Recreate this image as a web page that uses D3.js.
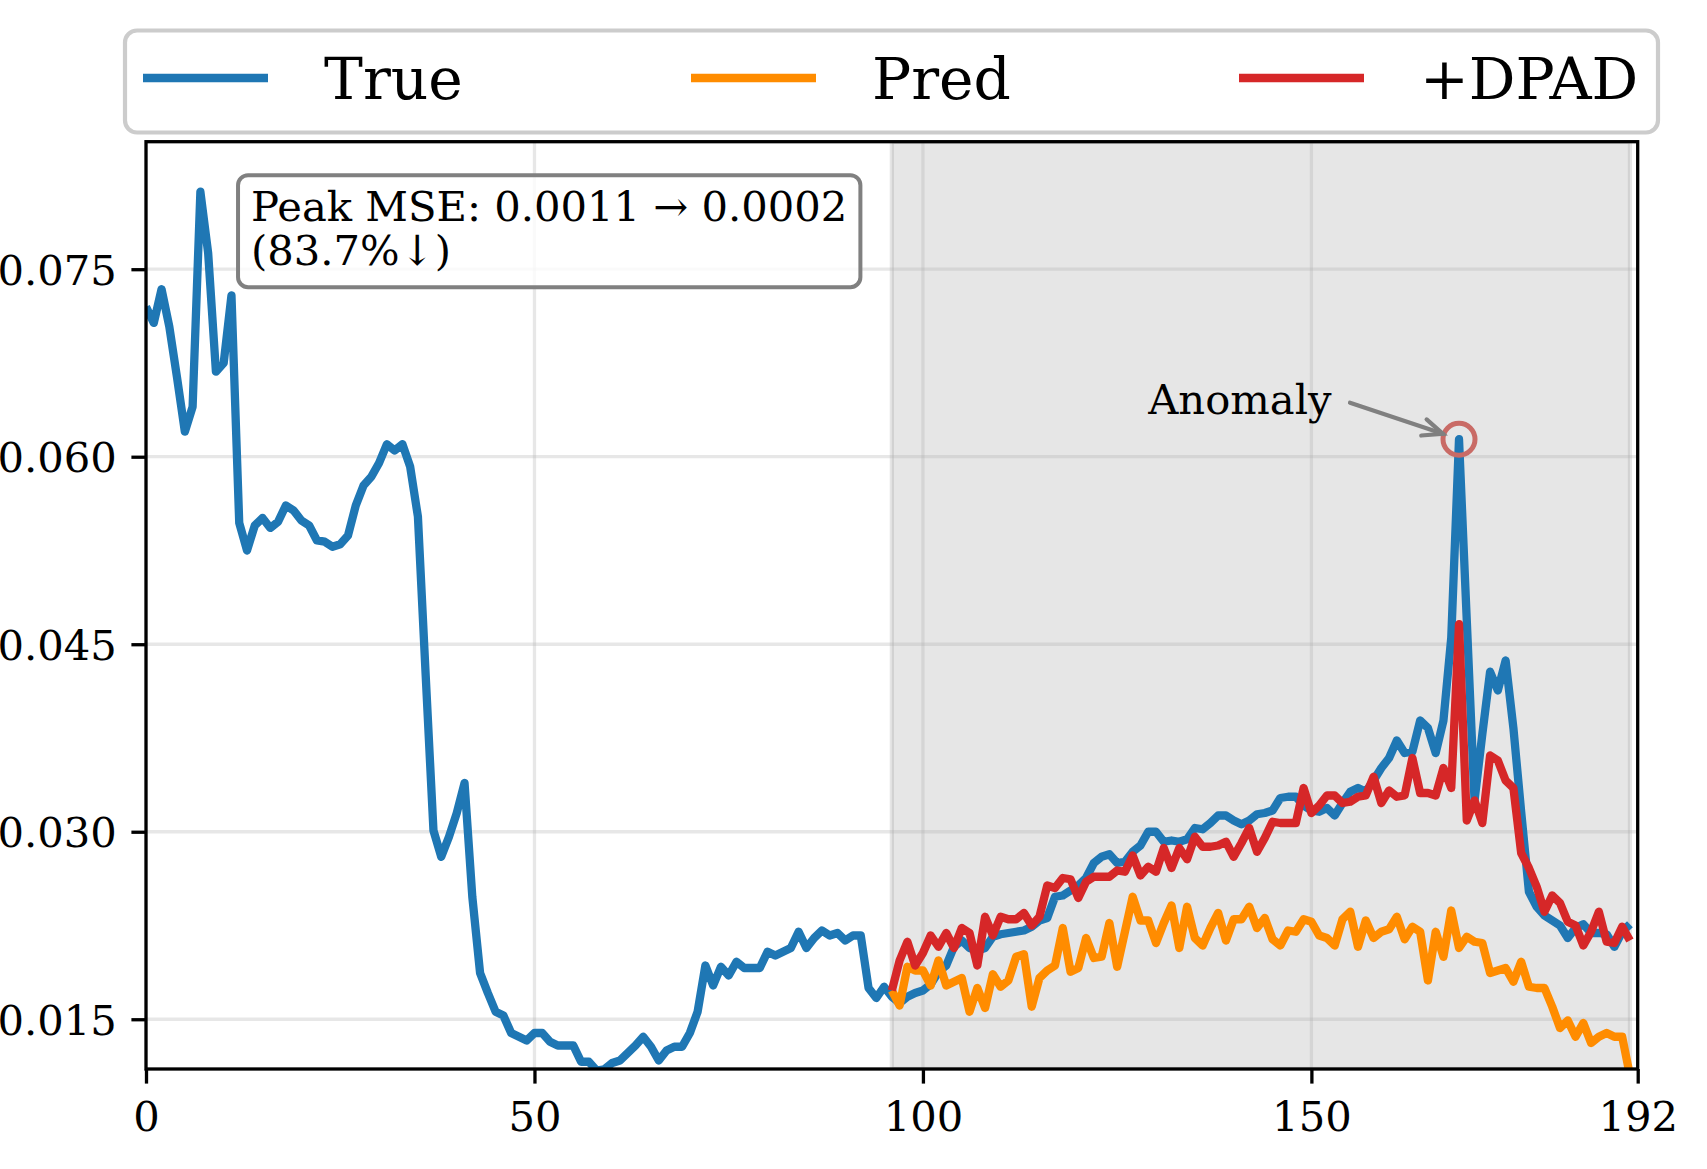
<!DOCTYPE html>
<html><head><meta charset="utf-8">
<script src="https://cdn.jsdelivr.net/npm/d3@7"></script>
<style>
html,body{margin:0;padding:0;background:#fff;}
svg{display:block;}
text{font-family:"DejaVu Serif","Liberation Serif",serif;fill:#000;}
</style>
</head><body>
<svg id="chart" width="1707" height="1169"></svg>
<script>
// ---------------- DATA ----------------
const trueValues = [
0.0720,0.0707,0.0734,0.0704,0.0663,0.0620,0.0640,0.0812,0.0763,0.0668,
0.0675,0.0729,0.0547,0.0525,0.0545,0.0551,0.0543,0.0548,0.0561,0.0557,
0.0549,0.0545,0.0533,0.0532,0.0528,0.0530,0.0537,0.0561,0.0577,0.0584,
0.0595,0.0610,0.0605,0.0610,0.0592,0.0552,0.0425,0.0301,0.0280,0.0296,
0.0315,0.0339,0.0248,0.0187,0.0171,0.0156,0.0153,0.0139,0.0136,0.0133,
0.0139,0.0139,0.0132,0.0129,0.0129,0.0129,0.0116,0.0116,0.0109,0.0110,
0.0115,0.0117,0.0123,0.0129,0.0136,0.0128,0.0117,0.0125,0.0128,0.0128,
0.0139,0.0156,0.0193,0.0177,0.0192,0.0185,0.0196,0.0191,0.0191,0.0191,
0.0204,0.0201,0.0204,0.0207,0.0220,0.0207,0.0215,0.0221,0.0217,0.0219,
0.0213,0.0217,0.0217,0.0175,0.0167,0.0176,0.0168,0.0163,0.0168,0.0171,
0.0173,0.0178,0.0188,0.0193,0.0208,0.0213,0.0207,0.0205,0.0207,0.0216,
0.0218,0.0219,0.0220,0.0221,0.0224,0.0229,0.0231,0.0248,0.0249,0.0253,
0.0257,0.0263,0.0275,0.0280,0.0282,0.0275,0.0276,0.0284,0.0289,0.0300,
0.0300,0.0292,0.0293,0.0292,0.0294,0.0303,0.0302,0.0307,0.0313,0.0313,
0.0309,0.0306,0.0309,0.0314,0.0315,0.0317,0.0327,0.0328,0.0328,0.0321,
0.0317,0.0316,0.0319,0.0313,0.0323,0.0332,0.0335,0.0332,0.0341,0.0351,
0.0359,0.0373,0.0363,0.0364,0.0389,0.0383,0.0363,0.0389,0.0455,0.0614,
0.0469,0.0325,0.0378,0.0428,0.0413,0.0437,0.0383,0.0316,0.0252,0.0240,
0.0233,0.0229,0.0225,0.0215,0.0223,0.0226,0.0219,0.0219,0.0218,0.0208,
0.0220,0.0226];
const predValues = [
0.0173,0.0161,0.0192,0.0189,0.0189,0.0177,0.0197,0.0177,0.0180,0.0183,
0.0156,0.0175,0.0159,0.0186,0.0176,0.0181,0.0200,0.0202,0.0160,0.0183,
0.0189,0.0193,0.0223,0.0188,0.0191,0.0215,0.0199,0.0200,0.0227,0.0192,
0.0220,0.0248,0.0229,0.0229,0.0211,0.0227,0.0241,0.0207,0.0240,0.0215,
0.0209,0.0223,0.0235,0.0213,0.0230,0.0230,0.0240,0.0223,0.0231,0.0214,
0.0209,0.0221,0.0220,0.0230,0.0228,0.0217,0.0215,0.0209,0.0230,0.0236,
0.0208,0.0229,0.0215,0.0220,0.0222,0.0232,0.0214,0.0224,0.0220,0.0181,
0.0220,0.0200,0.0237,0.0207,0.0216,0.0212,0.0211,0.0187,0.0189,0.0191,
0.0180,0.0196,0.0176,0.0175,0.0175,0.0160,0.0143,0.0149,0.0136,0.0147,
0.0131,0.0136,0.0139,0.0136,0.0136,0.0105];
const dpadValues = [
0.0173,0.0197,0.0212,0.0193,0.0203,0.0217,0.0208,0.0219,0.0207,0.0223,
0.0219,0.0193,0.0232,0.0217,0.0232,0.0230,0.0230,0.0235,0.0225,0.0232,
0.0257,0.0255,0.0263,0.0262,0.0247,0.0260,0.0264,0.0264,0.0264,0.0269,
0.0268,0.0281,0.0265,0.0272,0.0268,0.0287,0.0271,0.0287,0.0278,0.0296,
0.0288,0.0288,0.0289,0.0292,0.0280,0.0291,0.0303,0.0284,0.0295,0.0308,
0.0307,0.0307,0.0307,0.0335,0.0315,0.0321,0.0329,0.0329,0.0323,0.0324,
0.0328,0.0329,0.0344,0.0323,0.0333,0.0328,0.0329,0.0359,0.0331,0.0331,
0.0329,0.0351,0.0335,0.0466,0.0309,0.0325,0.0307,0.0361,0.0357,0.0341,
0.0335,0.0283,0.0271,0.0256,0.0236,0.0249,0.0243,0.0228,0.0225,0.0209,
0.0220,0.0236,0.0212,0.0211,0.0224,0.0213];
const forecastStart = 96;
const seriesNames = ["True", "Pred", "+DPAD"];
const seriesColors = ["#1f77b4", "#ff8c00", "#d62728"];
const xTicks = [0, 50, 100, 150, 192];
const yTicks = [0.015, 0.030, 0.045, 0.060, 0.075];
const xDomain = [0, 192];
const yDomain = [0.01102, 0.0852];
const shadeRange = [96, 191];
const annotationLines = ["Peak MSE: 0.0011 \u2192 0.0002", "(83.7%\u2193)"];
const anomalyLabel = "Anomaly";
const anomalyIndex = 169;

// ---------------- LAYOUT ----------------
const W = 1707, H = 1169;
const M = {left: 146, right: 1707 - 1637.7, top: 141.7, bottom: 1169 - 1069};
const svg = d3.select("#chart");
const pw = W - M.left - M.right, ph = H - M.top - M.bottom;

const x = d3.scaleLinear().domain(xDomain).range([M.left, M.left + pw]);
const y = d3.scaleLinear().domain(yDomain).range([M.top + ph, M.top]);

svg.append("defs").append("clipPath").attr("id", "clip")
  .append("rect").attr("x", M.left).attr("y", M.top).attr("width", pw).attr("height", ph);

// shaded forecast region
svg.append("rect")
  .attr("x", x(shadeRange[0])).attr("y", M.top)
  .attr("width", x(shadeRange[1]) - x(shadeRange[0])).attr("height", ph)
  .attr("fill", "#808080").attr("fill-opacity", 0.2)
  .attr("stroke", "#808080").attr("stroke-opacity", 0.2).attr("stroke-width", 4.2)
  .attr("clip-path", "url(#clip)");

// grid
const grid = svg.append("g").attr("clip-path", "url(#clip)");
grid.selectAll(".gx").data(xTicks).join("line")
  .attr("x1", d => x(d)).attr("x2", d => x(d)).attr("y1", M.top).attr("y2", M.top + ph)
  .attr("stroke", "#b0b0b0").attr("stroke-opacity", 0.3).attr("stroke-width", 3.3);
grid.selectAll(".gy").data(yTicks).join("line")
  .attr("y1", d => y(d)).attr("y2", d => y(d)).attr("x1", M.left).attr("x2", M.left + pw)
  .attr("stroke", "#b0b0b0").attr("stroke-opacity", 0.3).attr("stroke-width", 3.3);

// lines
const line = d3.line().x(d => x(d[0])).y(d => y(d[1]));
const series = [
  trueValues.map((v, i) => [i, v]),
  predValues.map((v, i) => [forecastStart + i, v]),
  dpadValues.map((v, i) => [forecastStart + i, v])
];
const lg = svg.append("g").attr("clip-path", "url(#clip)");
series.forEach((s, k) => {
  lg.append("path").datum(s).attr("d", line)
    .attr("fill", "none").attr("stroke", seriesColors[k])
    .attr("stroke-width", 8.3).attr("stroke-linejoin", "round").attr("stroke-linecap", "butt");
});

// anomaly marker
const ax = x(anomalyIndex), ay = y(trueValues[anomalyIndex]);
svg.append("circle").attr("cx", ax).attr("cy", ay).attr("r", 16)
  .attr("fill", "none").attr("stroke", "#c96b66").attr("stroke-width", 5);

// anomaly text & arrow
const at = svg.append("text")
  .attr("x", x(anomalyIndex - 40)).attr("y", y(trueValues[anomalyIndex] + 0.002))
  .attr("font-size", 41.7).text(anomalyLabel);
const bb = at.node().getBBox();
const sx = bb.x + bb.width + 18, sy = bb.y + bb.height / 2 + 3;
const dx = ax - sx, dy = ay - sy, len = Math.hypot(dx, dy);
const ux = dx / len, uy = dy / len;
const ex = ax - ux * 17, ey = ay - uy * 17;
svg.append("line").attr("x1", sx).attr("y1", sy).attr("x2", ex).attr("y2", ey)
  .attr("stroke", "#808080").attr("stroke-width", 4.2).attr("stroke-linecap", "round");
const hl = 20, hw = 8.5;
const px = -uy, py = ux;
svg.append("path")
  .attr("d", `M${ex - ux*hl + px*hw},${ey - uy*hl + py*hw} L${ex},${ey} L${ex - ux*hl - px*hw},${ey - uy*hl - py*hw}`)
  .attr("fill", "none").attr("stroke", "#808080").attr("stroke-width", 4.2)
  .attr("stroke-linecap", "round").attr("stroke-linejoin", "miter");

// spines
svg.append("rect").attr("x", M.left).attr("y", M.top).attr("width", pw).attr("height", ph)
  .attr("fill", "none").attr("stroke", "#000").attr("stroke-width", 3.3);

// axes
const xAxis = d3.axisBottom(x).tickValues(xTicks).tickFormat(d3.format("d")).tickSize(14.6).tickPadding(14.6);
const yAxis = d3.axisLeft(y).tickValues(yTicks).tickFormat(d3.format(".3f")).tickSize(14.6).tickPadding(14.6);
const gx = svg.append("g").attr("transform", `translate(0,${M.top + ph})`).call(xAxis);
const gy = svg.append("g").attr("transform", `translate(${M.left},0)`).call(yAxis);
[gx, gy].forEach(g => {
  g.select(".domain").remove();
  g.selectAll(".tick line").attr("stroke", "#000").attr("stroke-width", 3.3);
  g.selectAll(".tick text").attr("font-size", 41.7).attr("font-family", '"DejaVu Serif", serif').attr("fill", "#000");
});
gx.selectAll(".tick text").attr("dy", null).attr("y", 61.5);
gy.selectAll(".tick text").attr("dy", "0.36em");

// annotation box
const boxX = M.left + 0.0617 * pw, boxY = M.top + 33.5;
const ag = svg.append("g");
const abox = ag.append("rect").attr("rx", 10).attr("ry", 10)
  .attr("fill", "#fff").attr("fill-opacity", 0.8)
  .attr("stroke", "#808080").attr("stroke-width", 4);
const atext = ag.append("text").attr("font-size", 41.7);
annotationLines.forEach((t, i) => {
  atext.append("tspan").attr("x", boxX + 13).attr("y", boxY + 46 + i * 43.5).text(t);
});
const tb = atext.node().getBBox();
abox.attr("x", boxX).attr("y", boxY).attr("width", tb.width + 26).attr("height", 112);

// legend
const legX = 125, legY = 30.5, legW = 1533, legH = 102;
const leg = svg.append("g");
leg.append("rect").attr("x", legX).attr("y", legY).attr("width", legW).attr("height", legH)
  .attr("rx", 12).attr("ry", 12).attr("fill", "#fff").attr("fill-opacity", 0.8)
  .attr("stroke", "#cccccc").attr("stroke-width", 4.2);
const colStep = 548;
seriesNames.forEach((name, k) => {
  const hx = legX + 18 + k * colStep, hy = legY + legH / 2 - 3.5;
  leg.append("line").attr("x1", hx).attr("x2", hx + 125).attr("y1", hy).attr("y2", hy)
    .attr("stroke", seriesColors[k]).attr("stroke-width", 8.3);
  leg.append("text").attr("x", hx + 181).attr("y", legY + 68)
    .attr("font-size", 58.3).text(name);
});
</script>
</body></html>
